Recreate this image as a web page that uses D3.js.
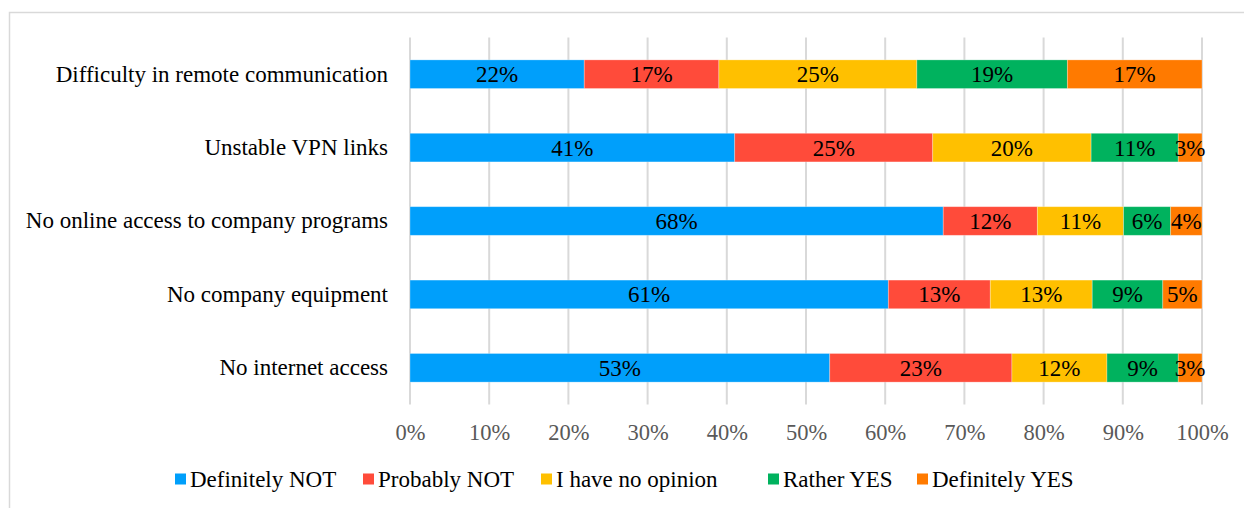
<!DOCTYPE html>
<html>
<head>
<meta charset="utf-8">
<script src="https://cdn.jsdelivr.net/npm/d3@7"></script>
<style>
  html, body { margin: 0; padding: 0; background: #fff; }
  svg { display: block; }
  text { font-family: "Liberation Serif", "Times New Roman", serif; }
</style>
</head>
<body>
<svg id="chart" width="1244" height="508"></svg>
<script>
// Survey obstacles to remote work, answer shares in percent
const categories = [
  "Difficulty in remote communication",
  "Unstable VPN links",
  "No online access to company programs",
  "No company equipment",
  "No internet access"
];
const seriesNames = ["Definitely NOT", "Probably NOT", "I have no opinion", "Rather YES", "Definitely YES"];
const definitelyNot = [22, 41, 68, 61, 53];
const probablyNot   = [17, 25, 12, 13, 23];
const noOpinion     = [25, 20, 11, 13, 12];
const ratherYes     = [19, 11, 6, 9, 9];
const definitelyYes = [17, 3, 4, 5, 3];
const tickValues = [0, 0.1, 0.2, 0.3, 0.4, 0.5, 0.6, 0.7, 0.8, 0.9, 1.0];
const colors = ["#009FFB", "#FF4B3A", "#FFC000", "#00B25E", "#FF7A00"];

const FONT = "'Liberation Serif', 'Times New Roman', serif";

const seriesValues = [definitelyNot, probablyNot, noOpinion, ratherYes, definitelyYes];
const rows = categories.map((c, i) => {
  const r = { category: c };
  seriesNames.forEach((s, j) => { r[s] = seriesValues[j][i]; });
  return r;
});

const svg = d3.select("#chart");

// chart frame
svg.append("rect")
  .attr("x", 9.5).attr("y", 12.5)
  .attr("width", 1260).attr("height", 520)
  .attr("fill", "#fff").attr("stroke", "#d9d9d9").attr("stroke-width", 1.5);

const plot = { left: 410, right: 1202, top: 37.5, bottom: 404.5 };

const x = d3.scaleLinear().domain([0, 1]).range([plot.left, plot.right]);
const y = d3.scaleBand().domain(categories).range([plot.top, plot.bottom]).paddingInner(0.61).paddingOuter(0.305);

// vertical gridlines
svg.append("g").selectAll("line")
  .data(tickValues)
  .join("line")
  .attr("x1", d => x(d)).attr("x2", d => x(d))
  .attr("y1", plot.top).attr("y2", plot.bottom)
  .attr("stroke", "#d9d9d9").attr("stroke-width", 2);

// x axis tick labels
const xAxis = d3.axisBottom(x)
  .tickValues(tickValues)
  .tickFormat(d3.format(".0%"))
  .tickSize(0).tickPadding(0);
const gx = svg.append("g").attr("transform", `translate(0,${plot.bottom + 20})`).call(xAxis);
gx.select(".domain").remove();
gx.selectAll("text")
  .attr("fill", "#595959")
  .attr("dy", "0.71em")
  .style("font-family", FONT)
  .style("font-size", "22.5px");

// y axis category labels
const yAxis = d3.axisLeft(y).tickSize(0).tickPadding(22);
const gy = svg.append("g").attr("transform", `translate(${plot.left},0)`).call(yAxis);
gy.select(".domain").remove();
gy.selectAll("text")
  .attr("fill", "#000")
  .style("font-family", FONT)
  .style("font-size", "23px");

// 100% stacked bars
const stack = d3.stack().keys(seriesNames).offset(d3.stackOffsetExpand);
const layers = stack(rows);

const layerG = svg.append("g").selectAll("g")
  .data(layers)
  .join("g")
  .attr("fill", (d, i) => colors[i]);

layerG.selectAll("rect")
  .data(d => d)
  .join("rect")
  .attr("x", d => x(d[0]))
  .attr("y", d => y(d.data.category))
  .attr("width", d => x(d[1]) - x(d[0]))
  .attr("height", y.bandwidth())
  .attr("stroke", "#fff").attr("stroke-opacity", 0.35).attr("stroke-width", 0.8);

// value labels centred in each segment
const labelG = svg.append("g");
layers.forEach(layer => {
  labelG.selectAll(null)
    .data(layer)
    .join("text")
    .attr("x", d => (x(d[0]) + x(d[1])) / 2)
    .attr("y", d => y(d.data.category) + y.bandwidth() / 2)
    .attr("dy", "0.35em")
    .attr("text-anchor", "middle")
    .attr("fill", "#000")
    .style("font-family", FONT)
    .style("font-size", "23px")
    .text(d => d.data[layer.key] + "%");
});

// legend
const legendX = [175, 363, 541, 768, 917];
const legend = svg.append("g").selectAll("g")
  .data(seriesNames)
  .join("g")
  .attr("transform", (d, i) => `translate(${legendX[i]},479)`);
legend.append("rect")
  .attr("x", 0).attr("y", -5.5)
  .attr("width", 11).attr("height", 11)
  .attr("fill", (d, i) => colors[i]);
legend.append("text")
  .attr("x", 15).attr("y", 0).attr("dy", "0.35em")
  .attr("fill", "#000")
  .style("font-family", FONT)
  .style("font-size", "23px")
  .text(d => d);
</script>
</body>
</html>
